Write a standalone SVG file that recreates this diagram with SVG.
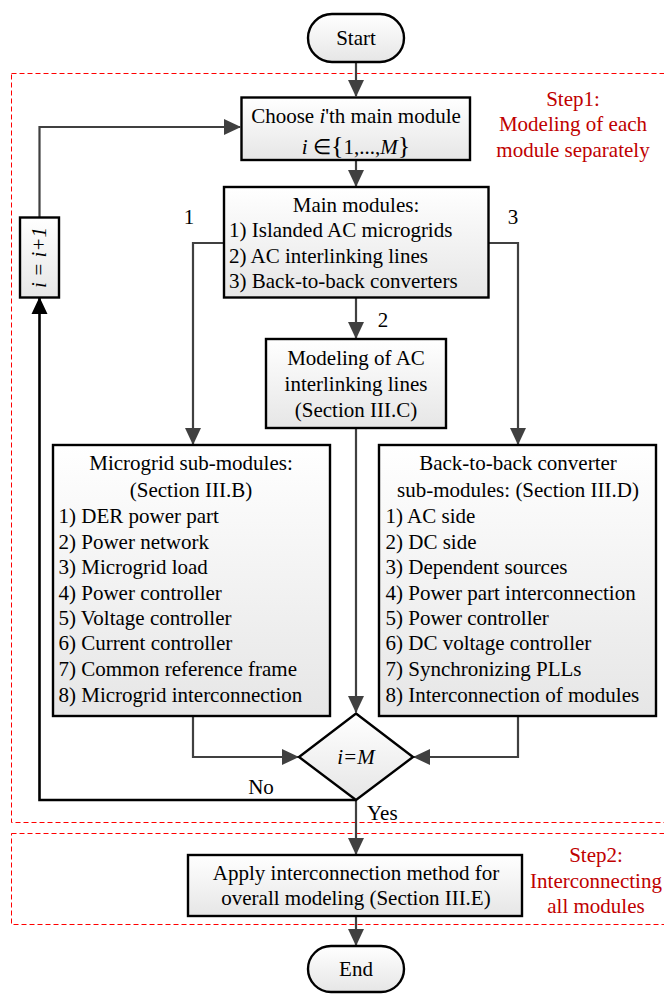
<svg xmlns="http://www.w3.org/2000/svg" width="664" height="994" viewBox="0 0 664 994">
<defs>
<linearGradient id="g" x1="0" y1="0" x2="0" y2="1">
<stop offset="0" stop-color="#ffffff"/>
<stop offset="1" stop-color="#e6e6e6"/>
</linearGradient>
<marker id="ah" markerUnits="userSpaceOnUse" markerWidth="18" markerHeight="18" viewBox="0 0 18 18" refX="16" refY="9" orient="auto">
<path d="M0,1 L17,9 L0,17 Z" fill="#404040"/>
</marker>
<marker id="ahk" markerUnits="userSpaceOnUse" markerWidth="18" markerHeight="18" viewBox="0 0 18 18" refX="16" refY="9" orient="auto">
<path d="M0,1 L17,9 L0,17 Z" fill="#000000"/>
</marker>
</defs>
<style>
.box{fill:url(#g);stroke:#000;stroke-width:2.4}
.t{font-family:"Liberation Serif","Times New Roman",serif;font-size:21px;fill:#000}
.c{text-anchor:middle}
.red{fill:#c00000}
.dash{fill:none;stroke:#ff0000;stroke-width:1;stroke-dasharray:5,3}
.con{fill:none;stroke:#404040;stroke-width:2.2}
.blk{fill:none;stroke:#000;stroke-width:2.6}
</style>
<rect width="664" height="994" fill="#fff"/>
<g id="regions">
<rect class="dash" x="11.5" y="73.5" width="670" height="749"/>
<rect class="dash" x="11.5" y="833.5" width="670" height="91"/>
<text class="t c red" x="573" y="106">Step1:</text>
<text class="t c red" x="573" y="131">Modeling of each</text>
<text class="t c red" x="573" y="157">module separately</text>
<text class="t c red" x="596" y="862">Step2:</text>
<text class="t c red" x="596" y="888">Interconnecting</text>
<text class="t c red" x="596" y="913">all modules</text>
</g>
<g id="connectors">
<path class="con" d="M356,62 V96" marker-end="url(#ah)"/>
<path class="con" d="M356,160 V186" marker-end="url(#ah)"/>
<path class="con" d="M356,298 V338" marker-end="url(#ah)"/>
<path class="con" d="M356,428 V712" marker-end="url(#ah)"/>
<path class="con" d="M224,243 H193 V444" marker-end="url(#ah)"/>
<path class="con" d="M488,243 H518 V444" marker-end="url(#ah)"/>
<path class="con" d="M193,716 V757 H298" marker-end="url(#ah)"/>
<path class="con" d="M518,716 V757 H414" marker-end="url(#ah)"/>
<path class="con" d="M356,800 V854" marker-end="url(#ah)"/>
<path class="con" d="M356,916 V945" marker-end="url(#ah)"/>
<path class="con" d="M39.5,217 V127 H240" marker-end="url(#ah)"/>
<path class="blk" d="M356,800 H39.5 V298" marker-end="url(#ahk)"/>
<text class="t c" x="189" y="224">1</text>
<text class="t c" x="383" y="327">2</text>
<text class="t c" x="513" y="224">3</text>
<text class="t c" x="261" y="794">No</text>
<text class="t" x="367" y="820">Yes</text>
</g>
<g id="start">
<rect class="box" x="308" y="14" width="96" height="48" rx="24"/>
<text class="t c" x="356" y="45">Start</text>
</g>
<g id="choose">
<rect class="box" x="241.5" y="97.5" width="228.5" height="62.5"/>
<text class="t c" x="356" y="123">Choose <tspan font-style="italic">i</tspan>'th main module</text>
<text class="t c" x="356" y="154"><tspan font-style="italic">i</tspan> ∈<tspan font-size="26">{</tspan>1,...,<tspan font-style="italic">M</tspan><tspan font-size="26">}</tspan></text>
</g>
<g id="main">
<rect class="box" x="224" y="187" width="264.5" height="110.5"/>
<text class="t c" x="356" y="212">Main modules:</text>
<text class="t" x="229" y="237">1) Islanded AC microgrids</text>
<text class="t" x="229" y="262.5">2) AC interlinking lines</text>
<text class="t" x="229" y="287.5">3) Back-to-back converters</text>
</g>
<g id="incr">
<rect class="box" x="20" y="217.5" width="39" height="80"/>
<text class="t c" transform="translate(46,257.5) rotate(-90)" x="0" y="0" font-style="italic">i = i+1</text>
</g>
<g id="lines">
<rect class="box" x="266" y="339" width="180" height="89"/>
<text class="t c" x="356" y="365">Modeling of AC</text>
<text class="t c" x="356" y="391">interlinking lines</text>
<text class="t c" x="356" y="417">(Section III.C)</text>
</g>
<g id="microgrid">
<rect class="box" x="53" y="445" width="277" height="271"/>
<text class="t c" x="191" y="470">Microgrid sub-modules:</text>
<text class="t c" x="191" y="497">(Section III.B)</text>
<text class="t" x="58.5" y="523">1) DER power part</text>
<text class="t" x="58.5" y="549">2) Power network</text>
<text class="t" x="58.5" y="574">3) Microgrid load</text>
<text class="t" x="58.5" y="600">4) Power controller</text>
<text class="t" x="58.5" y="625">5) Voltage controller</text>
<text class="t" x="58.5" y="650">6) Current controller</text>
<text class="t" x="58.5" y="676">7) Common reference frame</text>
<text class="t" x="58.5" y="702">8) Microgrid interconnection</text>
</g>
<g id="btb">
<rect class="box" x="379" y="445" width="277" height="271"/>
<text class="t c" x="518" y="470">Back-to-back converter</text>
<text class="t c" x="518" y="497">sub-modules: (Section III.D)</text>
<text class="t" x="385.5" y="523">1) AC side</text>
<text class="t" x="385.5" y="549">2) DC side</text>
<text class="t" x="385.5" y="574">3) Dependent sources</text>
<text class="t" x="385.5" y="600">4) Power part interconnection</text>
<text class="t" x="385.5" y="625">5) Power controller</text>
<text class="t" x="385.5" y="650">6) DC voltage controller</text>
<text class="t" x="385.5" y="676">7) Synchronizing PLLs</text>
<text class="t" x="385.5" y="702">8) Interconnection of modules</text>
</g>
<g id="decision">
<path class="box" d="M356,713.5 L413,757 L356,800 L299,757 Z"/>
<text class="t c" x="356" y="764" font-style="italic">i=M</text>
</g>
<g id="apply">
<rect class="box" x="188" y="855" width="334" height="61"/>
<text class="t c" x="356" y="880">Apply interconnection method for</text>
<text class="t c" x="356" y="905">overall modeling (Section III.E)</text>
</g>
<g id="end">
<rect class="box" x="308" y="946" width="96" height="46" rx="23"/>
<text class="t c" x="356" y="976">End</text>
</g>
</svg>
